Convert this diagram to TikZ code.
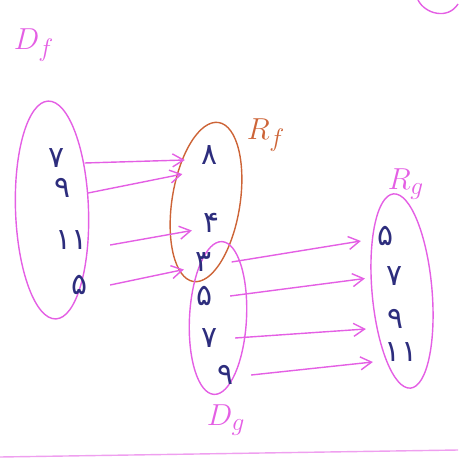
\documentclass[tikz,border=0pt]{standalone}
\usepackage{fontspec}
\newfontfamily\arabicfont[Script=Arabic]{DejaVu Sans}
\usetikzlibrary{arrows.meta,positioning,shapes.geometric}
\definecolor{penpink}{RGB}{228,95,228}
\definecolor{penorange}{RGB}{205,100,55}
\definecolor{pennavy}{RGB}{45,45,125}
\tikzset{
  oval/.style={ellipse, draw=penpink, thick, inner sep=0pt},
  rangeoval/.style={ellipse, draw=penorange, thick, inner sep=0pt},
  digit/.style={text=pennavy, font=\arabicfont\fontsize{17}{19}\selectfont, inner sep=1pt},
  setname/.style={text=penpink, font=\fontsize{19}{21}\selectfont, inner sep=1pt},
  arrow/.style={-{Straight Barb[length=2.2mm,width=2.6mm]}, thick, penpink}
}
\begin{document}
\begin{tikzpicture}[x=0.02cm,y=-0.02cm]
  \useasboundingbox (0,0) rectangle (458,459);
  % the sets
  \node[oval, minimum width=1.46cm, minimum height=4.36cm, rotate=2] (Df) at (52,210) {};
  \node[rangeoval, minimum width=1.36cm, minimum height=3.22cm, rotate=-9] (Rf) at (206,202) {};
  \node[oval, minimum width=1.14cm, minimum height=3.06cm, rotate=-3] (Dg) at (218,318) {};
  \node[oval, minimum width=1.2cm, minimum height=3.9cm, rotate=5] (Rg) at (402,291) {};
  % labels
  \node[setname] (lDf) at (34,45) {$D_f$};
  \node[setname, text=penorange] (lRf) at (266,135) {$R_f$};
  \node[setname] (lRg) at (406,184) {$R_g$};
  \node[setname] (lDg) at (226,420) {$D_g$};
  % elements of D_f
  \node[digit] (f7) at (57,158) {٧};
  \node[digit] (f9) at (63,188) {٩};
  \node[digit] (f11) at (72,240) {١١};
  \node[digit] (f5) at (80,285) {۵};
  % elements of R_f
  \node[digit] (r8) at (210,155) {٨};
  \node[digit] (r4) at (212,223) {۴};
  \node[digit] (g3) at (204,262) {٣};
  % elements of D_g
  \node[digit] (g5) at (205,296) {۵};
  \node[digit] (g7) at (210,338) {٧};
  \node[digit] (g9) at (226,375) {٩};
  % elements of R_g
  \node[digit] (h5) at (386,236) {۵};
  \node[digit] (h7) at (395,276) {٧};
  \node[digit] (h9) at (396,319) {٩};
  \node[digit] (h11) at (401,352) {١١};
  % f
  \draw[arrow] ([xshift=3.5mm,yshift=-1mm]f7.east) -- ([xshift=-3mm,yshift=-1mm]r8.west);
  \draw[arrow] ([xshift=3mm,yshift=-1mm]f9.east) -- ([xshift=-3.5mm,yshift=-1.5mm]r8.south west);
  \draw[arrow] ([xshift=4mm,yshift=-1mm]f11.east) -- ([xshift=-2mm,yshift=-1.5mm]r4.west);
  \draw[arrow] ([xshift=4mm]f5.east) -- ([xshift=-2mm,yshift=-1.5mm]g3.west);
  % g
  \draw[arrow] ([xshift=3.5mm]g3.east) -- ([xshift=-3mm,yshift=-1mm]h5.west);
  \draw[arrow] ([xshift=3mm]g5.east) -- ([xshift=-4mm,yshift=-0.5mm]h7.west);
  \draw[arrow] ([xshift=3mm]g7.east) -- ([xshift=-4mm,yshift=-2mm]h9.west);
  \draw[arrow] ([xshift=3mm]g9.east) -- ([xshift=-2mm,yshift=-2mm]h11.west);
  % page marks
  \draw[penpink, thick] (418,0) .. controls (425,14) and (448,20) .. (458,4);
  \draw[penpink!60, thick] (0,457) -- (458,450);
\end{tikzpicture}
\end{document}
